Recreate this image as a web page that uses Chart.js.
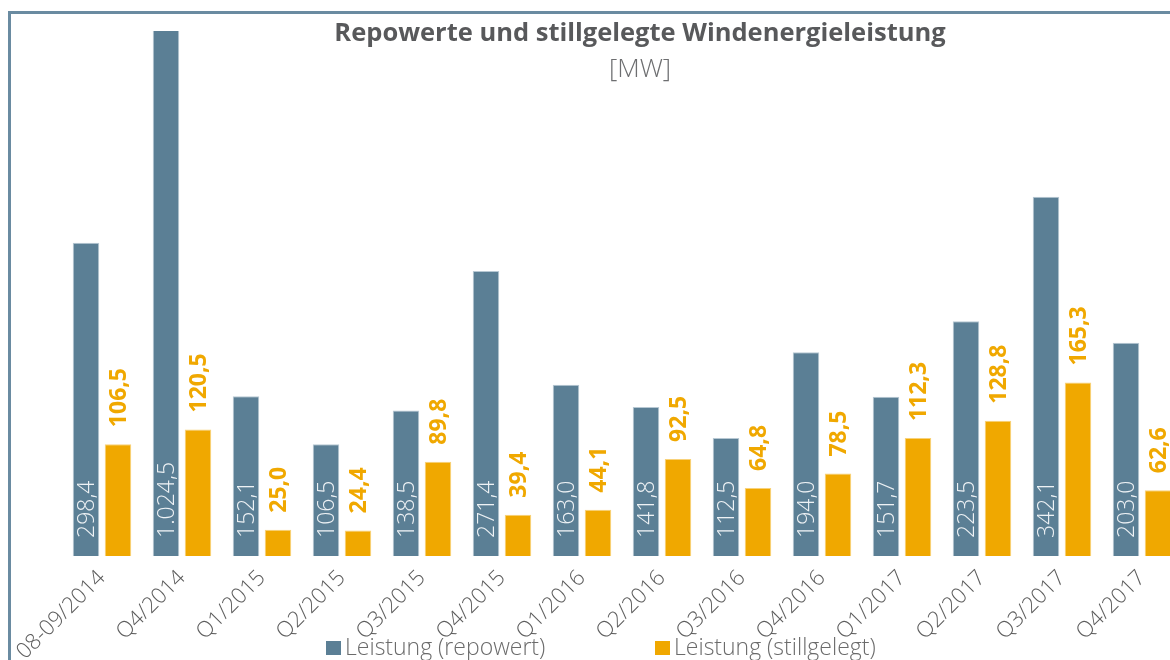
<!DOCTYPE html>
<html lang="de">
<head>
    <meta charset="UTF-8">
    <title>Repowerte und stillgelegte Windenergieleistung</title>
    <script src="https://cdn.jsdelivr.net/npm/chart.js"></script>
    <style>
        html, body { margin: 0; padding: 0; background: #fff; overflow: hidden; }
        /* Rahmen oben/links wie im Original */
        #rahmen { position: absolute; left: 8px; top: 11px; width: 1300px; height: 700px;
                  border-top: 3px solid #6a8ba1; border-left: 3px solid #6a8ba1; }
        #grafik { position: absolute; left: 0; top: 0; }
    </style>
</head>
<body>
    <div id="rahmen"></div>
    <canvas id="grafik" width="1200" height="660"></canvas>
<script>
    // Daten
    const quartale = ["08-09/2014", "Q4/2014", "Q1/2015", "Q2/2015", "Q3/2015", "Q4/2015", "Q1/2016",
                      "Q2/2016", "Q3/2016", "Q4/2016", "Q1/2017", "Q2/2017", "Q3/2017", "Q4/2017"];
    const repowert = [298.4, 1024.5, 152.1, 106.5, 138.5, 271.4, 163.0, 141.8, 112.5, 194.0, 151.7, 223.5, 342.1, 203.0];
    const stillgelegt = [106.5, 120.5, 25.0, 24.4, 89.8, 39.4, 44.1, 92.5, 64.8, 78.5, 112.3, 128.8, 165.3, 62.6];
    const yMax = 500;   // Achse endet bei 500 MW, der Balken Q4/2014 wird abgeschnitten

    const blau = "#5b7f95";
    const orange = "#f0a800";
    const schrift = '"Open Sans", "DejaVu Sans", sans-serif';

    // deutsches Zahlenformat: 1.024,5
    function fmt(v) {
        const teile = v.toFixed(1).split(".");
        const ganz = teile[0].replace(/\B(?=(\d{3})+(?!\d))/g, ".");
        return ganz + "," + teile[1];
    }

    // Werte an den Balken (senkrecht)
    const wertLabels = {
        id: "wertLabels",
        afterDatasetsDraw(chart) {
            const ctx = chart.ctx;
            const basis = chart.chartArea.bottom;
            chart.data.datasets.forEach((ds, di) => {
                const meta = chart.getDatasetMeta(di);
                meta.data.forEach((bar, i) => {
                    ctx.save();
                    if (di === 0) {
                        ctx.font = "300 23px " + schrift;
                        ctx.fillStyle = "#eef2f5";
                        ctx.translate(bar.x + 8, basis - 18);
                    } else {
                        ctx.font = "bold 23px " + schrift;
                        ctx.fillStyle = orange;
                        ctx.translate(bar.x + 8, bar.y - 17);
                    }
                    ctx.rotate(-Math.PI / 2);
                    ctx.textAlign = "left";
                    ctx.textBaseline = "alphabetic";
                    ctx.fillText(fmt(ds.data[i]), 0, 0);
                    ctx.restore();
                });
            });
        }
    };

    // Titel und Legende von Hand
    const titelLegende = {
        id: "titelLegende",
        afterDraw(chart) {
            const ctx = chart.ctx;
            ctx.save();
            ctx.textAlign = "center";
            ctx.textBaseline = "alphabetic";
            ctx.fillStyle = "#58595b";
            ctx.font = "bold 25.5px " + schrift;
            ctx.fillText("Repowerte und stillgelegte Windenergieleistung", 640, 41);
            ctx.fillStyle = "#6d6e70";
            ctx.font = "300 26px " + schrift;
            ctx.fillText("[MW]", 640, 77);

            ctx.textAlign = "left";
            ctx.font = "300 23px " + schrift;
            const eintraege = [
                { x: 326, farbe: blau, text: chart.data.datasets[0].label },
                { x: 655, farbe: orange, text: chart.data.datasets[1].label }
            ];
            eintraege.forEach(e => {
                ctx.fillStyle = e.farbe;
                ctx.fillRect(e.x, 641, 15, 14);
                ctx.fillStyle = "#6b6b6b";
                ctx.fillText(e.text, e.x + 19, 655);
            });
            ctx.restore();
        }
    };

    const ctx = document.getElementById("grafik").getContext("2d");
    const chart = new Chart(ctx, {
        type: "bar",
        data: {
            labels: quartale,
            datasets: [{
                label: "Leistung (repowert)",
                data: repowert,
                backgroundColor: blau,
                borderColor: "#b7c8d3",
                borderWidth: 1,
                categoryPercentage: 0.8,
                barPercentage: 0.83
            }, {
                label: "Leistung (stillgelegt)",
                data: stillgelegt,
                backgroundColor: orange,
                borderColor: "#f8d27a",
                borderWidth: 1,
                categoryPercentage: 0.8,
                barPercentage: 0.83
            }]
        },
        options: {
            responsive: false,
            animation: false,
            layout: { padding: { left: 62, right: 18, top: 31, bottom: 0 } },
            plugins: {
                legend: { display: false },
                title: { display: false },
                tooltip: { enabled: false }
            },
            scales: {
                x: {
                    grid: { display: false, drawTicks: false },
                    border: { display: false },
                    ticks: {
                        autoSkip: false,
                        minRotation: 45,
                        maxRotation: 45,
                        padding: 9,
                        color: "#5d5d5d",
                        font: { family: schrift, size: 22, weight: "300" }
                    },
                    afterFit(s) {
                        s.height = 104;
                        s.paddingLeft = 0;
                        s.paddingRight = 0;
                    }
                },
                y: { display: false, min: 0, max: yMax }
            }
        },
        plugins: [wertLabels, titelLegende]
    });
</script>
</body>
</html>
